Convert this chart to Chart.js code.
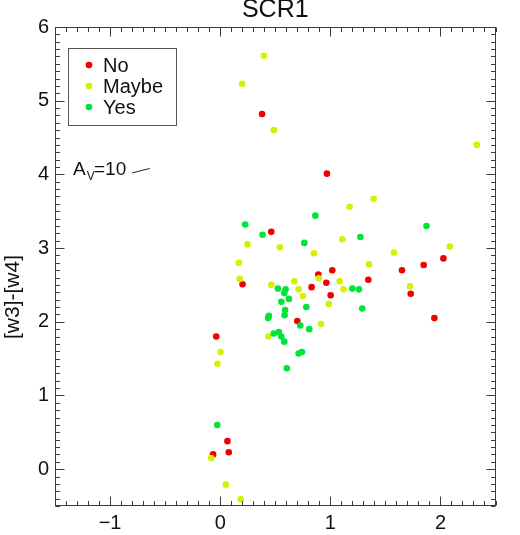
<!DOCTYPE html>
<html><head><meta charset="utf-8">
<script src="https://cdn.jsdelivr.net/npm/chart.js@4.4.1/dist/chart.umd.min.js"></script>
<style>html,body{margin:0;padding:0;background:#fff;}canvas{display:block;}</style>
</head><body>
<canvas id="c" width="520" height="535"></canvas>
<script>
const chartTitle = 'SCR1';
const yAxisTitle = '[w3]-[w4]';
const seriesNames = ['No', 'Maybe', 'Yes'];
const seriesColors = ['rgb(240,0,0)', 'rgb(214,240,0)', 'rgb(0,228,60)'];

const noX = [0.38, 0.969, 0.464, 2.027, 1.848, 1.651, 1.345, 1.73, 1.945, 1.018, 0.891, 0.203, 0.964, 0.83, 1.003, 0.70, -0.036, 0.066, 0.078, -0.064];
const noY = [4.82, 4.01, 3.22, 2.86, 2.77, 2.70, 2.57, 2.38, 2.05, 2.70, 2.64, 2.51, 2.53, 2.47, 2.36, 2.01, 1.80, 0.38, 0.23, 0.20];

const maybeX = [0.397, 0.20, 0.487, 2.33, 1.394, 1.175, 2.085, 1.578, 1.351, 1.724, 1.109, 0.248, 0.542, 0.851, 0.169, 0.896, 0.178, 0.673, 1.085, 0.464, 1.12, 0.712, 0.751, 0.985, 0.915, 0.439, 0.003, -0.025, -0.082, 0.051, 0.187];
const maybeY = [5.61, 5.23, 4.60, 4.40, 3.67, 3.56, 3.02, 2.94, 2.78, 2.48, 3.12, 3.05, 3.01, 2.93, 2.80, 2.59, 2.58, 2.55, 2.55, 2.50, 2.44, 2.44, 2.35, 2.24, 1.97, 1.80, 1.59, 1.43, 0.15, -0.21, -0.41];

const yesX = [0.864, 0.227, 0.385, 1.273, 0.764, 1.873, 0.524, 0.594, 1.20, 1.26, 0.582, 0.624, 0.555, 1.29, 0.782, 0.59, 0.585, 0.442, 0.435, 0.727, 0.809, 0.487, 0.533, 0.555, 0.582, 0.712, 0.742, 0.605, -0.027];
const yesY = [3.44, 3.32, 3.18, 3.15, 3.07, 3.30, 2.45, 2.44, 2.45, 2.44, 2.39, 2.31, 2.27, 2.18, 2.20, 2.16, 2.09, 2.08, 2.05, 1.95, 1.90, 1.84, 1.86, 1.80, 1.73, 1.57, 1.59, 1.37, 0.60];

const avLabel = ['A', 'V', '=10'];
const avVectorX = [-0.80, -0.64];
const avVectorY = [4.02, 4.08];

const xTicks = [-1, 0, 1, 2];
const yTicks = [0, 1, 2, 3, 4, 5, 6];
const xRange = [-1.5, 2.5];
const yRange = [-0.5, 6];

const FONT = '"Liberation Sans", Arial, Helvetica, sans-serif';
Chart.defaults.font.family = FONT;

const pts = (xs, ys) => xs.map((v, i) => ({x: v, y: ys[i]}));
const fmt = v => (v < 0 ? '\u2212' + Math.abs(v) : String(v));

const deco = {
  id: 'deco',
  afterDraw(chart) {
    const {ctx, chartArea: a, scales: {x, y}} = chart;
    ctx.save();
    // frame
    ctx.strokeStyle = '#3c3c3c';
    ctx.lineWidth = 1;
    const L = Math.round(a.left) + 0.5, R = Math.round(a.right) - 0.5;
    const T = Math.round(a.top) + 0.5, B = Math.round(a.bottom) - 0.5;
    ctx.strokeRect(L, T, R - L, B - T);
    // inward ticks
    ctx.beginPath();
    for (let i = Math.round(xRange[0] * 10); i <= Math.round(xRange[1] * 10); i++) {
      const px = Math.round(x.getPixelForValue(i / 10)) + 0.5;
      const len = i % 10 === 0 ? 9 : 4.5;
      ctx.moveTo(px, B); ctx.lineTo(px, B - len);
      ctx.moveTo(px, T); ctx.lineTo(px, T + len);
    }
    for (let i = Math.round(yRange[0] * 10); i <= Math.round(yRange[1] * 10); i++) {
      const py = Math.round(y.getPixelForValue(i / 10)) + 0.5;
      const len = i % 10 === 0 ? 9 : 4.5;
      ctx.moveTo(L, py); ctx.lineTo(L + len, py);
      ctx.moveTo(R, py); ctx.lineTo(R - len, py);
    }
    ctx.stroke();

    // title
    ctx.fillStyle = '#111';
    ctx.font = '25px ' + FONT;
    ctx.textAlign = 'center';
    ctx.textBaseline = 'alphabetic';
    ctx.fillText(chartTitle, (a.left + a.right) / 2, 17);

    // y axis title
    ctx.save();
    ctx.translate(19, 297);
    ctx.rotate(-Math.PI / 2);
    ctx.font = '21px ' + FONT;
    ctx.fillText(yAxisTitle, 0, 0);
    ctx.restore();

    // legend
    ctx.strokeStyle = '#555';
    ctx.strokeRect(68.5, 48.5, 108, 77);
    ctx.font = '20px ' + FONT;
    ctx.textAlign = 'left';
    ctx.textBaseline = 'middle';
    const ly = [65, 86, 107];
    seriesNames.forEach((n, i) => {
      ctx.fillStyle = seriesColors[i];
      ctx.beginPath(); ctx.arc(89, ly[i], 3.3, 0, Math.PI * 2); ctx.fill();
      ctx.fillStyle = '#111';
      ctx.fillText(n, 103, ly[i] + 1);
    });

    // Av label
    ctx.textBaseline = 'alphabetic';
    ctx.font = '19px ' + FONT;
    ctx.fillText(avLabel[0], 73, 175);
    const wA = ctx.measureText(avLabel[0]).width;
    ctx.font = '12px ' + FONT;
    ctx.fillText(avLabel[1], 73 + wA + 1, 180);
    ctx.font = '19px ' + FONT;
    ctx.fillText(avLabel[2], 94, 175);
    ctx.restore();
  }
};

const mk = (i, xs, ys, order) => ({
  type: 'scatter',
  label: seriesNames[i],
  data: pts(xs, ys),
  backgroundColor: seriesColors[i],
  borderWidth: 0,
  pointRadius: 3.3,
  order: order
});

new Chart(document.getElementById('c'), {
  type: 'scatter',
  data: {
    datasets: [
      mk(0, noX, noY, 3),
      mk(1, maybeX, maybeY, 2),
      mk(2, yesX, yesY, 1),
      {
        type: 'line',
        label: 'Av',
        data: pts(avVectorX, avVectorY),
        borderColor: '#222',
        borderWidth: 1,
        pointRadius: 0,
        showLine: true,
        fill: false,
        order: 0
      }
    ]
  },
  options: {
    responsive: false,
    animation: false,
    devicePixelRatio: 1,
    layout: {padding: {top: 27, right: 24.5, left: 0, bottom: 0}},
    plugins: {legend: {display: false}, title: {display: false}, tooltip: {enabled: false}},
    scales: {
      x: {
        type: 'linear', min: xRange[0], max: xRange[1],
        afterBuildTicks: s => { s.ticks = xTicks.map(v => ({value: v})); },
        afterFit: s => { s.height = 29; },
        ticks: {callback: fmt, font: {size: 20}, color: '#111', padding: 5, maxRotation: 0, autoSkip: false},
        grid: {display: false, drawTicks: false},
        border: {display: false}
      },
      y: {
        type: 'linear', min: yRange[0], max: yRange[1],
        afterBuildTicks: s => { s.ticks = yTicks.map(v => ({value: v})); },
        afterFit: s => { s.width = 55; },
        ticks: {callback: fmt, font: {size: 20}, color: '#111', padding: 6, autoSkip: false},
        grid: {display: false, drawTicks: false},
        border: {display: false}
      }
    }
  },
  plugins: [deco]
});
</script>
</body></html>
